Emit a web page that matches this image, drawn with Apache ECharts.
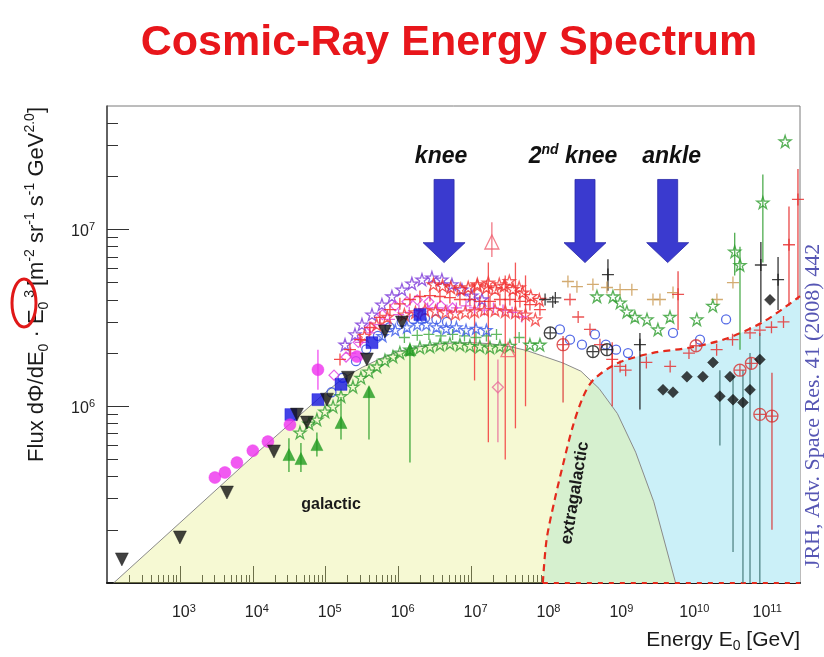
<!DOCTYPE html>
<html>
<head>
<meta charset="utf-8">
<title>Cosmic-Ray Energy Spectrum</title>
<script src="https://cdn.jsdelivr.net/npm/echarts@6.0.0/dist/echarts.min.js"></script>
<style>
html,body{margin:0;padding:0;background:#fff;}
#chart{width:824px;height:657px;}
</style>
</head>
<body>
<div id="chart"></div>
<script>
// ---------------- axis ranges / ticks ----------------
const xMin = 1e2, xMax = 3.2e11;
const yMin = 1e5, yMax = 5e7;
const minorMantissas = [2, 3, 4, 5, 6, 7, 8, 9];
const xDecades = [1e2, 1e3, 1e4, 1e5, 1e6, 1e7, 1e8, 1e9, 1e10, 1e11];
const yDecades = [1e5, 1e6, 1e7];

// ---------------- model curves ----------------
const galE = [123, 1e3, 1e4, 1e5, 1.78e5, 3.16e5, 5.62e5, 1e6, 1.78e6, 3.16e6, 5.62e6, 1e7, 1.78e7, 3.16e7, 5.62e7, 1e8, 1.78e8, 3.16e8, 5.62e8, 1e9, 1.78e9, 3.16e9, 6.3e9];
const galF = [1.0e5, 2.19e5, 5.2e5, 1.2e6, 1.45e6, 1.66e6, 1.86e6, 2.04e6, 2.16e6, 2.24e6, 2.28e6, 2.29e6, 2.26e6, 2.19e6, 2.07e6, 1.91e6, 1.76e6, 1.58e6, 1.26e6, 9.1e5, 5.5e5, 2.88e5, 1.0e5];
const egE = [9.5e7, 1.07e8, 1.38e8, 1.78e8, 2.45e8, 3.39e8, 4.68e8, 1e9, 3e9, 1e10, 3e10, 1e11, 3.2e11];
const egF = [1e5, 1.76e5, 2.95e5, 4.6e5, 7.7e5, 1.13e6, 1.41e6, 1.75e6, 2.0e6, 2.15e6, 2.4e6, 3.0e6, 4.2e6];
const egFloorE = [9.5e7, 3.2e11];
const egFloorF = [1e5, 1e5];

// ---------------- measurements ----------------
const blackTriE = [160, 1000, 4420, 19500, 40300, 55200, 104000, 202000, 367000, 649000, 1110000];
const blackTriF = [136000, 181000, 325000, 555000, 897000, 809000, 1090000, 1450000, 1840000, 2650000, 2980000];

const magCircE = [3020, 4140, 6050, 10000, 16100, 32300, 78200, 268000];
const magCircF = [395000, 422000, 480000, 561000, 631000, 787000, 1610000, 1910000];
const magCircLo = [null, null, null, null, null, null, 1240000, null];
const magCircHi = [null, null, null, null, null, null, 2090000, null];

const blueSqE = [33300, 78200, 162000, 431000, 1960000];
const blueSqF = [897000, 1090000, 1330000, 2290000, 3300000];

const greenTriE = [31300, 45700, 75700, 162000, 392000, 1430000];
const greenTriF = [533000, 506000, 607000, 809000, 1210000, 2090000];
const greenTriLo = [425000, 425000, 520000, 648000, 648000, 480000];
const greenTriHi = [660000, 620000, 710000, 1130000, 1290000, 2200000];

const greenStarE = [44300, 58900, 75700, 97500, 126000, 162000, 236000, 304000, 392000, 504000, 649000, 836000, 1040000, 1430000, 1960000, 2690000, 3690000, 5050000, 6930000, 9500000, 13000000, 17900000, 24500000, 33600000, 63200000, 86700000];
const greenStarF = [710000, 798000, 841000, 933000, 995000, 1140000, 1290000, 1450000, 1570000, 1680000, 1820000, 1910000, 2010000, 2090000, 2150000, 2180000, 2230000, 2260000, 2230000, 2200000, 2180000, 2150000, 2180000, 2200000, 2230000, 2230000];

const greenCrossE = [1.2e6, 1.8e6, 2.6e6, 3.8e6, 5.5e6, 8e6, 1.15e7, 1.6e7, 2.2e7, 4.5e7];
const greenCrossF = [2.45e6, 2.52e6, 2.55e6, 2.5e6, 2.55e6, 2.5e6, 2.45e6, 2.5e6, 2.55e6, 2.45e6];

const greenHighE = [5.25e8, 8.7e8, 1.09e9, 1.35e9, 1.74e9, 2.55e9, 3.6e9, 5.27e9, 1.23e10, 2.04e10, 4.07e10, 4.81e10, 9.9e10, 2.0e11];
const greenHighF = [4.18e6, 4.18e6, 3.86e6, 3.43e6, 3.2e6, 3.1e6, 2.72e6, 3.2e6, 3.1e6, 3.7e6, 7.5e6, 6.3e6, 1.42e7, 3.15e7];
const greenHighLo = [null, null, null, null, null, null, null, null, null, null, 5.5e6, 2.09e6, 6.5e6, null];
const greenHighHi = [null, null, null, null, null, null, null, null, null, null, 9.6e6, 8.0e6, 2.05e7, null];

const redPlusE = [157000, 215000, 295000, 404000, 554000, 760000, 1040000, 1430000, 1960000, 2690000, 3690000, 5050000, 6930000, 9500000, 13000000, 17900000, 24500000, 33600000, 46100000, 63200000, 86700000];
const redPlusF = [1840000, 2090000, 2380000, 2790000, 3180000, 3520000, 3800000, 4020000, 4180000, 4230000, 4180000, 4120000, 4020000, 4020000, 3920000, 3920000, 4020000, 4020000, 3920000, 3760000, 3520000];

const redTopE = [3.0e6, 4.0e6, 5.2e6, 7.0e6, 9.0e6, 1.2e7, 1.6e7, 2.1e7, 2.8e7, 3.7e7, 5.0e7, 6.5e7, 8.5e7];
const redTopF = [4.9e6, 4.8e6, 4.7e6, 4.6e6, 4.7e6, 4.9e6, 4.7e6, 4.6e6, 4.8e6, 4.6e6, 4.4e6, 4.2e6, 4.0e6];

const redStarE = [340000, 500000, 700000, 1200000, 1700000, 2300000, 3200000, 4400000, 6000000, 8200000, 11000000, 15000000, 21000000, 29000000, 40000000, 55000000, 75000000, 12000000, 17000000, 24000000, 33000000, 45000000];
const redStarF = [2500000, 2900000, 3200000, 3300000, 3400000, 3500000, 3450000, 3400000, 3350000, 3400000, 3450000, 3500000, 3500000, 3450000, 3400000, 3300000, 3100000, 4800000, 5000000, 4900000, 5100000, 4700000];
const redStarLo = [null, null, null, null, null, null, null, null, null, null, 1400000, null, null, 500000, 750000, 1000000, null, null, 625000, null, null, null];
const redStarHi = [null, null, null, null, null, null, null, null, null, null, 5000000, null, null, 5500000, 6500000, 5500000, null, null, 6500000, null, null, null];

const magMidE = [2.2e5, 3.0e5, 4.0e5, 5.5e5, 7.5e5, 1.0e6, 1.4e6, 1.9e6, 2.5e6, 3.4e6, 4.6e6, 6.2e6, 8.4e6, 1.1e7, 1.5e7, 2.0e7, 2.7e7, 3.6e7, 4.9e7];
const magMidF = [2.0e6, 2.3e6, 2.6e6, 2.9e6, 3.1e6, 3.3e6, 3.4e6, 3.5e6, 3.6e6, 3.6e6, 3.5e6, 3.6e6, 3.7e6, 3.6e6, 3.5e6, 3.6e6, 3.5e6, 3.4e6, 3.2e6];

const blueMidE = [6e5, 9e5, 1.3e6, 1.8e6, 2.4e6, 3.3e6, 4.5e6, 6.2e6, 8.4e6, 1.15e7, 1.6e7];
const blueMidF = [2.5e6, 2.7e6, 2.8e6, 2.9e6, 2.9e6, 2.8e6, 2.75e6, 2.8e6, 2.7e6, 2.75e6, 2.7e6];

const purpleE = [184000, 252000, 314000, 431000, 590000, 809000, 1110000, 1520000, 2090000, 2860000, 3920000, 5380000, 7380000, 10100000, 13900000];
const purpleF = [2230000, 2550000, 2900000, 3300000, 3760000, 4180000, 4570000, 4950000, 5210000, 5350000, 5210000, 4890000, 4570000, 4230000, 4020000];

const blueOpenE = [120000, 170000, 260000, 360000, 520000, 750000, 1100000, 1600000, 2300000, 3300000, 4600000, 1.63e8, 2.24e8, 3.27e8, 4.93e8, 6.96e8, 9.6e8, 1.4e9, 5.8e9, 1.36e10, 3.1e10];
const blueOpenF = [1200000, 1450000, 1800000, 2100000, 2500000, 2800000, 3000000, 3100000, 3150000, 3100000, 3000000, 2720000, 2380000, 2230000, 2550000, 2230000, 2090000, 2.0e6, 2.6e6, 2.38e6, 3.1e6];

const magOpenE = [130000, 190000, 280000, 420000, 600000, 900000, 1300000, 1800000, 2600000, 3800000, 5500000];
const magOpenF = [1500000, 1900000, 2300000, 2800000, 3300000, 3700000, 3900000, 4000000, 3900000, 3700000, 3600000];

const tanPlusE = [2.1e8, 2.79e8, 4.62e8, 7.2e8, 1.09e9, 1.58e9, 3.08e9, 3.84e9, 5.8e9, 2.32e10, 3.85e10];
const tanPlusF = [5.08e6, 4.75e6, 4.89e6, 4.7e6, 4.57e6, 4.57e6, 4.02e6, 4.02e6, 4.4e6, 4.02e6, 5.01e6];

const blackPlusE = [1.02e8, 1.3e8, 1.41e8, 7.43e8, 2.04e9, 9.3e10, 1.6e11];
const blackPlusF = [4.02e6, 3.9e6, 4.1e6, 5.56e6, 2.23e6, 6.3e6, 5.2e6];
const blackPlusLo = [null, null, null, 4.5e6, 9.6e5, 3.0e6, 3.5e6];
const blackPlusHi = [null, null, null, 6.8e6, 2.6e6, 8.5e6, 7.0e6];

const blackRingE = [4.62e8, 7.2e8, 1.2e8];
const blackRingF = [2.04e6, 2.09e6, 2.6e6];

const blackDiaE = [4.23e9, 5.8e9, 9.0e9, 1.49e10, 2.05e10, 2.55e10, 3.51e10, 3.86e10, 5.28e10, 6.6e10, 9.0e10, 1.24e11];
const blackDiaF = [1.24e6, 1.2e6, 1.47e6, 1.47e6, 1.77e6, 1.14e6, 1.47e6, 1.09e6, 1.05e6, 1.24e6, 1.84e6, 4.0e6];
const blackDiaLo = [null, null, null, null, null, 6.0e5, null, 1.5e5, 5e4, 5e4, 5e4, null];
const blackDiaHi = [null, null, null, null, null, 1.6e6, null, 1.5e6, 1.6e6, 2.0e6, 2.6e6, null];

const redRingE = [9.0e10, 1.32e11, 4.8e10, 6.9e10, 1.2e10, 1.8e8];
const redRingF = [9.0e5, 8.8e5, 1.6e6, 1.75e6, 2.2e6, 2.23e6];
const redRingLo = [null, 2.0e5, null, null, null, 1.05e6];
const redRingHi = [null, 1.55e6, null, null, null, 2.5e6];

const redHighE = [2.24e8, 2.9e8, 4.21e8, 5.77e8, 8.5e8, 1.09e9, 1.3e9, 2.5e9, 5.3e9, 6.8e9, 9.6e9, 2.3e10, 3.8e10, 6.6e10, 9.0e10, 1.3e11, 1.9e11, 2.26e11, 3.0e11];
const redHighF = [4.02e6, 3.2e6, 2.72e6, 2.23e6, 1.84e6, 1.68e6, 1.6e6, 1.77e6, 1.68e6, 4.3e6, 2.0e6, 2.09e6, 2.38e6, 2.6e6, 2.7e6, 2.8e6, 3.0e6, 8.2e6, 1.48e7];
const redHighLo = [null, null, null, null, 1.0e6, null, null, null, null, 2.7e6, null, null, null, null, null, null, null, 3.7e6, 4.0e6];
const redHighHi = [null, null, null, null, 2.3e6, null, null, null, null, 5.8e6, null, null, null, null, null, null, null, 1.35e7, 2.2e7];

const pinkTriE = [1.9e7, 3.16e7];
const pinkTriF = [8.5e6, 2.09e6];
const pinkTriLo = [7.0e6, null];
const pinkTriHi = [1.1e7, null];

const pinkDiaE = [2.3e7];
const pinkDiaF = [1.28e6];
const pinkDiaLo = [6.25e5];
const pinkDiaHi = [1.84e6];

// ---------------- annotations ----------------
const arrowE = [4.2e6, 3.6e8, 4.9e9];
const arrowLabels = ['knee', '2{sup|nd} knee', 'ankle'];
const arrowTopF = 1.92e7, arrowHeadF = 8.43e6, arrowTipF = 6.5e6, arrowLabelF = 2.6e7;
const arrowLabelDx = [-3, -12, 4];

// ---------------- styling ----------------
const FONT = '"Liberation Sans", Arial, Helvetica, sans-serif';
const SERIF = '"Liberation Serif", "Times New Roman", serif';
const SYM_PLUS = 'path://M0,6H12M6,0V12';
const SYM_STAR = 'path://M50,3L61,37H97L68,58L79,93L50,72L21,93L32,58L3,37H39Z';
const SYM_RING = 'path://M10,1A9,9,0,1,1,9.99,1ZM10,1V19M1,10H19';

const markerSets = [
  {name: 'green stars', E: greenStarE, F: greenStarF, symbol: SYM_STAR, size: 12, color: '#2f9d2f', open: true},
  {name: 'green crosses', E: greenCrossE, F: greenCrossF, symbol: SYM_PLUS, size: 11, color: '#3aa83a', open: true},
  {name: 'blue open', E: blueOpenE, F: blueOpenF, symbol: 'circle', size: 9, color: '#2a46e0', open: true},
  {name: 'blue mid', E: blueMidE, F: blueMidF, symbol: SYM_STAR, size: 11, color: '#3a5ae8', open: true},
  {name: 'purple', E: purpleE, F: purpleF, symbol: SYM_STAR, size: 12, color: '#7a36d8', open: true},
  {name: 'magenta open', E: magOpenE, F: magOpenF, symbol: 'diamond', size: 10, color: '#e03ce0', open: true},
  {name: 'magenta mid', E: magMidE, F: magMidF, symbol: SYM_PLUS, size: 11, color: '#d83cd8', open: true},
  {name: 'red plus', E: redPlusE, F: redPlusF, symbol: SYM_PLUS, size: 12, color: '#f01e1e', open: true},
  {name: 'red top', E: redTopE, F: redTopF, symbol: SYM_STAR, size: 12, color: '#f02828', open: true},
  {name: 'red star', E: redStarE, F: redStarF, lo: redStarLo, hi: redStarHi, symbol: SYM_STAR, size: 12, color: '#f23a3a', open: true},
  {name: 'tan plus', E: tanPlusE, F: tanPlusF, symbol: SYM_PLUS, size: 12, color: '#c8964e', open: true},
  {name: 'green high', E: greenHighE, F: greenHighF, lo: greenHighLo, hi: greenHighHi, symbol: SYM_STAR, size: 12, color: '#2f9d2f', open: true},
  {name: 'red high', E: redHighE, F: redHighF, lo: redHighLo, hi: redHighHi, symbol: SYM_PLUS, size: 12, color: '#e62828', open: true},
  {name: 'red ring', E: redRingE, F: redRingF, lo: redRingLo, hi: redRingHi, symbol: SYM_RING, size: 12, color: '#d83030', open: true},
  {name: 'black plus', E: blackPlusE, F: blackPlusF, lo: blackPlusLo, hi: blackPlusHi, symbol: SYM_PLUS, size: 12, color: '#111111', open: true},
  {name: 'black ring', E: blackRingE, F: blackRingF, symbol: SYM_RING, size: 12, color: '#111111', open: true},
  {name: 'black diamond', E: blackDiaE, F: blackDiaF, lo: blackDiaLo, hi: blackDiaHi, symbol: 'diamond', size: 11, color: '#111111', errColor: '#3d7272'},
  {name: 'pink triangle', E: pinkTriE, F: pinkTriF, lo: pinkTriLo, hi: pinkTriHi, symbol: 'triangle', size: 14, color: '#f06070', open: true},
  {name: 'pink diamond', E: pinkDiaE, F: pinkDiaF, lo: pinkDiaLo, hi: pinkDiaHi, symbol: 'diamond', size: 11, color: '#e86a9a', open: true},
  {name: 'green triangles', E: greenTriE, F: greenTriF, lo: greenTriLo, hi: greenTriHi, symbol: 'triangle', size: 12, color: '#1f9a1f'},
  {name: 'blue squares', E: blueSqE, F: blueSqF, symbol: 'rect', size: 12, color: '#1414e0'},
  {name: 'magenta circles', E: magCircE, F: magCircF, lo: magCircLo, hi: magCircHi, symbol: 'circle', size: 12, color: '#ee30ee'},
  {name: 'black triangles', E: blackTriE, F: blackTriF, symbol: 'triangle', rotate: 180, size: 13, color: '#111111'}
];

// ---------------- derived tick values ----------------
const xMinorLog = [];
xDecades.forEach(d => minorMantissas.forEach(m => { const v = m * d; if (v < xMax) xMinorLog.push(Math.log10(v)); }));
const yMinorLog = [];
yDecades.forEach(d => minorMantissas.forEach(m => { const v = m * d; if (v < yMax) yMinorLog.push(Math.log10(v)); }));

const powLabel = v => '{b|10}{s|' + Math.round(Math.log10(v)) + '}';
const labelRich = {
  b: {fontSize: 16, lineHeight: 20, color: '#222', fontFamily: FONT},
  s: {fontSize: 11, lineHeight: 11, verticalAlign: 'top', color: '#222', fontFamily: FONT}
};

// ---------------- series ----------------
const series = [];
const pair = (E, F) => E.map((e, i) => [e, F[i]]);

series.push({
  type: 'line', name: 'extragalactic area', data: pair(egE, egF), symbol: 'none',
  smooth: 0.3, lineStyle: {opacity: 0, width: 0},
  areaStyle: {color: '#cbf0f8', opacity: 1, origin: 'start'}, z: 1, silent: true
});
series.push({
  type: 'line', name: 'galactic', data: pair(galE, galF), symbol: 'none',
  smooth: false, lineStyle: {color: '#8a8a8a', width: 1},
  areaStyle: {color: 'rgba(232,240,140,0.55)', origin: 'start'}, z: 2, silent: true
});
series.push({
  type: 'line', name: 'extragalactic', data: pair(egE, egF), symbol: 'none',
  smooth: 0.3, lineStyle: {color: '#e42a1c', width: 2.2, type: [7, 5]},
  z: 3, silent: true
});
series.push({
  type: 'line', name: 'extragalactic floor', data: pair(egFloorE, egFloorF), symbol: 'none',
  lineStyle: {color: '#e42a1c', width: 2, type: [5, 6]}, z: 3, silent: true, clip: false
});

markerSets.forEach(s => {
  if (s.lo) {
    const errData = [];
    s.E.forEach((e, i) => { if (s.lo[i] != null) errData.push([e, s.lo[i], s.hi[i]]); });
    const ec = s.errColor || s.color;
    series.push({
      type: 'custom', name: s.name + ' errors', data: errData, encode: {x: 0, y: [1, 2]},
      clip: true, z: 4, silent: true,
      renderItem: (params, api) => {
        const p1 = api.coord([api.value(0), api.value(1)]);
        const p2 = api.coord([api.value(0), api.value(2)]);
        return {type: 'line', shape: {x1: p1[0], y1: p1[1], x2: p2[0], y2: p2[1]},
                style: {stroke: ec, lineWidth: 1.3, opacity: 0.85}};
      }
    });
  }
  series.push({
    type: 'scatter', name: s.name, data: pair(s.E, s.F), symbol: s.symbol,
    symbolSize: s.size, symbolRotate: s.rotate || 0, z: 5, silent: true,
    itemStyle: s.open
      ? {color: 'rgba(0,0,0,0)', borderColor: s.color, borderWidth: 1.3}
      : {color: s.color, borderColor: s.color, borderWidth: 0.5},
    emphasis: {disabled: true}
  });
});

series.push({
  type: 'custom', name: 'arrows', data: arrowE.map((e, i) => [e, arrowTipF, i]),
  encode: {x: 0, y: 1}, clip: false, z: 8, silent: true,
  renderItem: (params, api) => {
    const e = api.value(0), i = api.value(2);
    const top = api.coord([e, arrowTopF]);
    const head = api.coord([e, arrowHeadF]);
    const tip = api.coord([e, arrowTipF]);
    const lab = api.coord([e, arrowLabelF]);
    const x = top[0];
    return {type: 'group', children: [
      {type: 'polygon', shape: {points: [
        [x - 10, top[1]], [x + 10, top[1]], [x + 10, head[1]], [x + 21, head[1]],
        [x, tip[1]], [x - 21, head[1]], [x - 10, head[1]]]},
        style: {fill: '#3a3acf', stroke: '#2a2aa8', lineWidth: 0.8}},
      {type: 'text', x: x + arrowLabelDx[i], y: lab[1], style: {
        text: arrowLabels[i], align: 'center', verticalAlign: 'middle',
        fill: '#111', fontSize: 23, fontWeight: 'bold', fontStyle: 'italic', fontFamily: FONT, lineHeight: 26,
        rich: {sup: {fontSize: 14, lineHeight: 14, verticalAlign: 'top', fontWeight: 'bold', fontStyle: 'italic', fontFamily: FONT, fill: '#111'}}
      }}
    ]};
  }
});

const yTitle = '{m|Flux dΦ/dE}{sub|0}{m| · E}{sub|0}{sup| 3.}{m|[m}{sup|-2}{m| sr}{sup|-1}{m| s}{sup|-1}{m| GeV}{sup|2.0}{m|]}';
const xTitle = '{m|Energy E}{sub|0}{m| [GeV]}';
const titleRich = (size, sub) => ({
  m: {fontSize: size, lineHeight: size + 6, fontFamily: FONT, fill: '#1a1a1a'},
  sup: {fontSize: sub, lineHeight: sub, verticalAlign: 'top', fontFamily: FONT, fill: '#1a1a1a'},
  sub: {fontSize: sub, lineHeight: sub, verticalAlign: 'bottom', fontFamily: FONT, fill: '#1a1a1a'}
});

const option = {
  animation: false,
  backgroundColor: '#ffffff',
  title: {
    text: 'Cosmic-Ray Energy Spectrum', left: 444, textAlign: 'center', top: 17,
    textStyle: {color: '#e8161b', fontSize: 43, fontWeight: 'bold', fontFamily: FONT}
  },
  grid: {left: 107, right: 24, top: 106, bottom: 74, show: true, borderColor: '#7a7a7a', borderWidth: 1,
         backgroundColor: 'rgba(0,0,0,0)', containLabel: false, outerBoundsMode: 'none'},
  xAxis: [
    {type: 'log', logBase: 10, min: xMin, max: xMax, position: 'bottom',
     axisLine: {show: true, lineStyle: {color: '#1a1a1a', width: 2}},
     axisTick: {show: true, inside: true, length: 17, lineStyle: {color: '#222', width: 1}},
     axisLabel: {show: true, formatter: powLabel, rich: labelRich, margin: 20, padding: [0, 0, 0, 8],
                 showMinLabel: false, showMaxLabel: false},
     splitLine: {show: false}, minorTick: {show: false}},
    {type: 'value', min: Math.log10(xMin), max: Math.log10(xMax), position: 'bottom',
     axisLine: {show: false}, axisLabel: {show: false}, splitLine: {show: false},
     axisTick: {show: true, inside: true, length: 8, customValues: xMinorLog, lineStyle: {color: '#222', width: 1}}}
  ],
  yAxis: [
    {type: 'log', logBase: 10, min: yMin, max: yMax, position: 'left',
     axisLine: {show: true, lineStyle: {color: '#444', width: 1.5}},
     axisTick: {show: true, inside: true, length: 22, lineStyle: {color: '#333', width: 1}},
     axisLabel: {show: true, formatter: powLabel, rich: labelRich, margin: 12, padding: [4, 0, 0, 0],
                 showMinLabel: false, showMaxLabel: false},
     splitLine: {show: false}, minorTick: {show: false}},
    {type: 'value', min: Math.log10(yMin), max: Math.log10(yMax), position: 'left',
     axisLine: {show: false}, axisLabel: {show: false}, splitLine: {show: false},
     axisTick: {show: true, inside: true, length: 11, customValues: yMinorLog, lineStyle: {color: '#333', width: 1}}}
  ],
  graphic: [
    {type: 'text', x: 37, y: 107, rotation: Math.PI / 2, z: 10,
     style: {text: yTitle, align: 'right', verticalAlign: 'middle', fill: '#1a1a1a', fontSize: 22, fontFamily: FONT, rich: titleRich(22, 14)}},
    {type: 'ellipse', z: 11, shape: {cx: 24, cy: 303, rx: 12, ry: 24},
     style: {fill: 'none', stroke: '#e01818', lineWidth: 3}},
    {type: 'text', x: 800, y: 640, z: 10,
     style: {text: xTitle, align: 'right', verticalAlign: 'middle', fill: '#1a1a1a', fontSize: 21, fontFamily: FONT, rich: titleRich(21, 14)}},
    {type: 'text', x: 813, y: 406, rotation: Math.PI / 2, z: 10,
     style: {text: 'JRH, Adv. Space Res. 41 (2008) 442', align: 'center', verticalAlign: 'middle',
             fill: '#5656b4', fontSize: 22, fontFamily: SERIF}},
    {type: 'text', x: 331, y: 505, z: 10,
     style: {text: 'galactic', align: 'center', verticalAlign: 'middle', fill: '#1a1a1a', fontSize: 16, fontWeight: 'bold', fontFamily: FONT}},
    {type: 'text', x: 575, y: 493, rotation: 80.5 * Math.PI / 180, z: 10,
     style: {text: 'extragalactic', align: 'center', verticalAlign: 'middle', fill: '#1a1a1a', fontSize: 17, fontWeight: 'bold', fontFamily: FONT}}
  ],
  series: series.map(s => Object.assign({xAxisIndex: 0, yAxisIndex: 0}, s))
};

const chart = echarts.init(document.getElementById('chart'), null, {renderer: 'canvas'});
chart.setOption(option);
</script>
</body>
</html>
